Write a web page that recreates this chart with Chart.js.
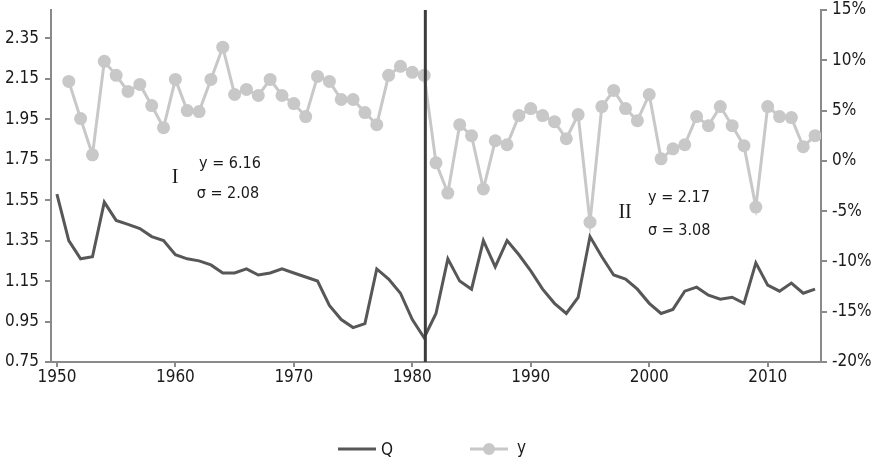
<!DOCTYPE html>
<html>
<head>
<meta charset="utf-8">
<script src="https://cdn.jsdelivr.net/npm/chart.js@4.4.1/dist/chart.umd.min.js"></script>
<style>
  html, body { margin: 0; padding: 0; background: #fff; }
  #wrap { width: 878px; height: 466px; }
</style>
</head>
<body>
<div id="wrap"><canvas id="myChart" width="878" height="466"></canvas></div>
<script>
// Q: 1950..2014 (left axis)
var qStart = 1950;
var qValues = [1.58, 1.35, 1.26, 1.27, 1.54, 1.45, 1.43, 1.41, 1.37, 1.35,
               1.28, 1.26, 1.25, 1.23, 1.19, 1.19, 1.21, 1.18, 1.19, 1.21,
               1.19, 1.17, 1.15, 1.03, 0.96, 0.92, 0.94, 1.21, 1.16, 1.09,
               0.96, 0.87, 0.99, 1.26, 1.15, 1.11, 1.35, 1.22, 1.35, 1.28,
               1.20, 1.11, 1.04, 0.99, 1.07, 1.37, 1.27, 1.18, 1.16, 1.11,
               1.04, 0.99, 1.01, 1.10, 1.12, 1.08, 1.06, 1.07, 1.04, 1.24,
               1.13, 1.10, 1.14, 1.09, 1.11];
// y: 1951..2014 (right axis, %)
var yStart = 1951;
var yValues = [7.9, 4.2, 0.6, 9.9, 8.5, 6.9, 7.6, 5.5, 3.3, 8.1,
               5.0, 4.9, 8.1, 11.3, 6.6, 7.1, 6.5, 8.1, 6.5, 5.7,
               4.4, 8.4, 7.9, 6.1, 6.1, 4.8, 3.6, 8.5, 9.4, 8.8,
               8.5, -0.2, -3.2, 3.6, 2.5, -2.8, 2.0, 1.6, 4.5, 5.2,
               4.5, 3.9, 2.2, 4.6, -6.1, 5.4, 7.0, 5.2, 4.0, 6.6,
               0.2, 1.2, 1.6, 4.4, 3.5, 5.4, 3.5, 1.5, -4.6, 5.4,
               4.4, 4.3, 1.4, 2.5];

var xTicks = [1950, 1960, 1970, 1980, 1990, 2000, 2010];
var leftTicks = [0.75, 0.95, 1.15, 1.35, 1.55, 1.75, 1.95, 2.15, 2.35];
var rightTicks = [-20, -15, -10, -5, 0, 5, 10, 15];
var breakYear = 1981.1;
var notes = [
    {x: 1959.7, y: 1.66, text: 'I', serif: true},
    {x: 1962.0, y: 1.73, text: 'y = 6.16'},
    {x: 1961.8, y: 1.58, text: '\u03c3 = 2.08'},
    {x: 1997.4, y: 1.49, text: 'II', serif: true},
    {x: 1999.9, y: 1.56, text: 'y = 2.17'},
    {x: 1999.9, y: 1.40, text: '\u03c3 = 3.08'}
];

var FONT = "'DejaVu Sans Condensed', 'Liberation Sans Narrow', sans-serif";
var AXIS = '#8a8a8a';
var QCOL = '#575757';
var YCOL = '#c8c8c8';

var qData = qValues.map(function (v, i) { return {x: qStart + i, y: v}; });
var yData = yValues.map(function (v, i) { return {x: yStart + i, y: v}; });

function setTicks(list) {
    return function (scale) {
        scale.ticks = list.map(function (v) { return {value: v}; });
    };
}

function fitY(w) {
    return function (s) {
        s.width = w;
        s.paddingTop = 0;
        s.paddingBottom = 0;
    };
}

var extras = {
    id: 'extras',
    afterDatasetsDraw: function (chart) {
        var ctx = chart.ctx, xs = chart.scales.x, ys = chart.scales.left;
        var area = chart.chartArea;
        ctx.save();
        // break line
        var bx = xs.getPixelForValue(breakYear);
        ctx.strokeStyle = '#3c3c3c';
        ctx.lineWidth = 3;
        ctx.beginPath();
        ctx.moveTo(bx, area.top);
        ctx.lineTo(bx, area.bottom);
        ctx.stroke();
        // annotations
        ctx.fillStyle = '#1a1a1a';
        ctx.textBaseline = 'middle';
        ctx.textAlign = 'left';
        notes.forEach(function (n) {
            ctx.font = n.serif ? "20px 'Liberation Serif', serif" : '16px ' + FONT;
            ctx.fillText(n.text, xs.getPixelForValue(n.x), ys.getPixelForValue(n.y));
        });
        // legend
        var cx = chart.width / 2, ly = 449;
        ctx.lineWidth = 3;
        ctx.strokeStyle = QCOL;
        ctx.beginPath(); ctx.moveTo(cx - 101, ly); ctx.lineTo(cx - 63, ly); ctx.stroke();
        ctx.strokeStyle = YCOL;
        ctx.beginPath(); ctx.moveTo(cx + 31, ly); ctx.lineTo(cx + 69, ly); ctx.stroke();
        ctx.fillStyle = YCOL;
        ctx.beginPath(); ctx.arc(cx + 50, ly, 6, 0, Math.PI * 2); ctx.fill();
        ctx.fillStyle = '#1a1a1a';
        ctx.font = '17px ' + FONT;
        ctx.fillText('Q', cx - 58, ly + 2);
        ctx.fillText('y', cx + 78, ly);
        ctx.restore();
    }
};

new Chart(document.getElementById('myChart'), {
    type: 'line',
    data: {
        datasets: [
            {
                label: 'Q',
                data: qData,
                yAxisID: 'left',
                borderColor: QCOL,
                borderWidth: 3,
                pointRadius: 0,
                tension: 0
            },
            {
                label: 'y',
                data: yData,
                yAxisID: 'right',
                borderColor: YCOL,
                backgroundColor: YCOL,
                borderWidth: 3,
                pointRadius: 6.5,
                pointBorderWidth: 0,
                pointBackgroundColor: YCOL,
                tension: 0
            }
        ]
    },
    options: {
        responsive: false,
        animation: false,
        layout: {padding: {top: 10, bottom: 0, left: 0, right: 0}},
        plugins: {legend: {display: false}, tooltip: {enabled: false}},
        scales: {
            x: {
                type: 'linear',
                min: 1949.5,
                max: 2014.5,
                afterBuildTicks: setTicks(xTicks),
                afterFit: function (s) { s.height = 104; s.paddingLeft = 0; s.paddingRight = 0; },
                border: {display: true, color: AXIS, width: 2},
                grid: {drawOnChartArea: false, drawTicks: true, tickLength: 5, color: AXIS, lineWidth: 2},
                ticks: {
                    color: '#1a1a1a', font: {family: FONT, size: 17}, padding: 0,
                    maxRotation: 0, autoSkip: false,
                    callback: function (v) { return String(v); }
                }
            },
            left: {
                type: 'linear',
                position: 'left',
                min: 0.75,
                max: 2.49,
                afterBuildTicks: setTicks(leftTicks),
                afterFit: fitY(51),
                border: {display: true, color: AXIS, width: 2},
                grid: {drawOnChartArea: false, drawTicks: true, tickLength: 6, color: AXIS, lineWidth: 2},
                ticks: {
                    color: '#1a1a1a', font: {family: FONT, size: 17}, padding: 6,
                    callback: function (v) { return v.toFixed(2); }
                }
            },
            right: {
                type: 'linear',
                position: 'right',
                min: -20,
                max: 15,
                afterBuildTicks: setTicks(rightTicks),
                afterFit: fitY(57),
                border: {display: true, color: AXIS, width: 2},
                grid: {drawOnChartArea: false, drawTicks: true, tickLength: 6, color: AXIS, lineWidth: 2},
                ticks: {
                    color: '#1a1a1a', font: {family: FONT, size: 17}, padding: 5,
                    callback: function (v) { return v + '%'; }
                }
            }
        }
    },
    plugins: [extras]
});
</script>
</body>
</html>
